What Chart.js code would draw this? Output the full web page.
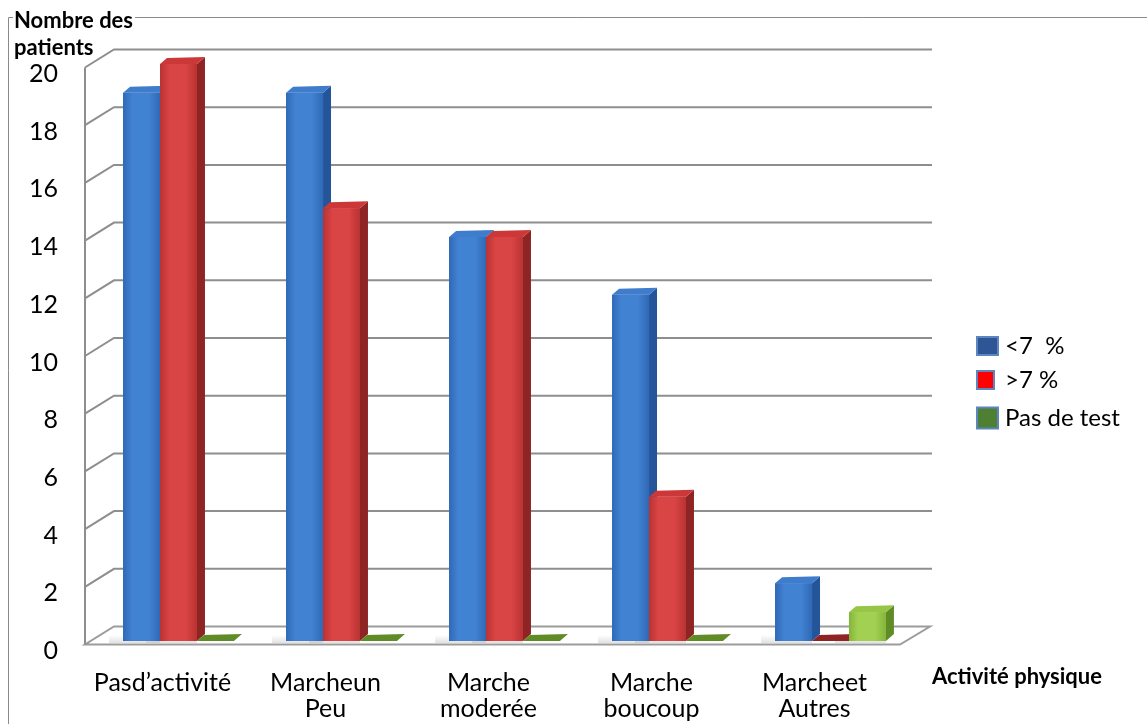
<!DOCTYPE html>
<html>
<head>
<meta charset="utf-8">
<script src="https://cdn.jsdelivr.net/npm/chart.js@4.4.1/dist/chart.umd.min.js"></script>
<style>
  html, body { margin: 0; padding: 0; background: #ffffff; }
  #wrap { position: relative; width: 1147px; height: 724px; }
</style>
</head>
<body>
<div id="wrap"><canvas id="chart" width="1147" height="724"></canvas></div>
<script>
// Activity categories (multi-line labels)
const categories = [
  ["Pasd\u2019activité"],
  ["Marcheun", "Peu"],
  ["Marche", "moderée"],
  ["Marche", "boucoup"],
  ["Marcheet", "Autres"]
];
// Series
const seriesNames = ["<7  %", ">7 %", "Pas de test"];
const belowSeven = [19, 19, 14, 12, 2];
const aboveSeven = [20, 15, 14, 5, 0];
const noTest = [0, 0, 0, 0, 1];
// Value axis ticks
const yTicks = [0, 2, 4, 6, 8, 10, 12, 14, 16, 18, 20];
const yTitle = ["Nombre des", "patients"];
const xTitle = "Activité physique";

// Face colours for each series: front (left->right gradient), side, top
const faceColors = [
  { front: ["#4282d2", "#2f69b6"], side: "#24559a", top: "#3f7ccc" },
  { front: ["#d94444", "#b93232"], side: "#8e2424", top: "#cc3838" },
  { front: ["#a2d152", "#84b43a"], side: "#5f8c26", top: "#96c646" }
];
const legendColors = [
  { fill: "#2f5597", border: "#5b86c0" },
  { fill: "#ff0000", border: "#5b86c0" },
  { fill: "#4f7f33", border: "#5b86c0" }
];

const FONT = "Lato, 'Open Sans', sans-serif";
const GRID = "#8e8e8e";

// Perspective offsets of the box
const WALL_FRONT_DX = -12, WALL_FRONT_DY = 3.5;   // front-left edge relative to bar plane
const WALL_BACK_DX = 17, WALL_BACK_DY = -14.5;    // back wall relative to bar plane
const BAR_DX = 8, BAR_DY = 7;                      // bar depth

const frame3d = {
  id: "frame3d",
  beforeDraw(chart) {
    const ctx = chart.ctx;
    ctx.save();
    // outer frame (top and left edges)
    ctx.strokeStyle = "#8a8a8a";
    ctx.lineWidth = 1;
    ctx.beginPath();
    ctx.moveTo(8.5, 724);
    ctx.lineTo(8.5, 17.5);
    ctx.lineTo(1147, 17.5);
    ctx.stroke();
    ctx.restore();
  },
  beforeDatasetsDraw(chart) {
    const ctx = chart.ctx;
    const ys = chart.scales.y;
    const area = chart.chartArea;
    const fx = area.left + WALL_FRONT_DX;
    const bx = area.left + WALL_BACK_DX;
    const rx = area.right + 20;
    ctx.save();
    ctx.lineCap = "butt";
    // floor
    const b = ys.getPixelForValue(0);
    const ff = b + WALL_FRONT_DY, fb = b + WALL_BACK_DY;
    const frx = area.right - 12;
    ctx.fillStyle = "#ffffff";
    ctx.strokeStyle = "#9c9c9c";
    ctx.lineWidth = 2;
    ctx.beginPath();
    ctx.moveTo(fx, ff);
    ctx.lineTo(frx, ff);
    ctx.lineTo(rx - 2, fb);
    ctx.lineTo(bx, fb);
    ctx.closePath();
    ctx.fill();
    ctx.stroke();
    // grid lines: diagonal on the left wall + horizontal on the back wall
    ctx.strokeStyle = GRID;
    ctx.lineWidth = 2;
    yTicks.forEach(v => {
      if (v === 0) return;
      const p = ys.getPixelForValue(v);
      ctx.beginPath();
      ctx.moveTo(fx, p + WALL_FRONT_DY);
      ctx.lineTo(bx, p + WALL_BACK_DY);
      ctx.lineTo(rx, p + WALL_BACK_DY);
      ctx.stroke();
    });
    // left wall front edge
    ctx.beginPath();
    ctx.moveTo(fx, ys.getPixelForValue(20) + WALL_FRONT_DY);
    ctx.lineTo(fx, ff);
    ctx.stroke();
    // soft shadows of the bars on the floor
    chart.data.datasets.forEach((ds, di) => {
      const meta = chart.getDatasetMeta(di);
      meta.data.forEach(el => {
        const p = el.getProps(["x", "y", "base", "width"], true);
        if (p.base - p.y < 1) return;
        const g = ctx.createLinearGradient(0, p.base - 6, 0, p.base + 4);
        g.addColorStop(0, "rgba(150,150,150,0)");
        g.addColorStop(1, "rgba(150,150,150,0.35)");
        ctx.fillStyle = g;
        ctx.fillRect(p.x - p.width / 2 - 14, p.base - 6, p.width + 14, 8);
      });
    });
    ctx.restore();
  },
  afterDatasetsDraw(chart) {
    const ctx = chart.ctx;
    const n = chart.data.labels.length;
    ctx.save();
    for (let i = 0; i < n; i++) {
      chart.data.datasets.forEach((ds, di) => {
        const el = chart.getDatasetMeta(di).data[i];
        const p = el.getProps(["x", "y", "base", "width"], true);
        const x0 = p.x - p.width / 2, x1 = p.x + p.width / 2;
        const yt = p.y, yb = p.base;
        const c = faceColors[di];
        // side face
        ctx.fillStyle = c.side;
        ctx.beginPath();
        ctx.moveTo(x1, yt);
        ctx.lineTo(x1 + BAR_DX, yt - BAR_DY);
        ctx.lineTo(x1 + BAR_DX, yb - BAR_DY);
        ctx.lineTo(x1, yb);
        ctx.closePath();
        ctx.fill();
        // top face
        ctx.fillStyle = (yb - yt < 1) ? c.side : c.top;
        ctx.beginPath();
        ctx.moveTo(x0, yt);
        ctx.lineTo(x0 + BAR_DX - 1, yt - BAR_DY + 1);
        ctx.lineTo(x1 + BAR_DX, yt - BAR_DY);
        ctx.lineTo(x1, yt);
        ctx.closePath();
        ctx.fill();
        // front face
        if (yb - yt >= 1) {
          const g = ctx.createLinearGradient(x0, 0, x1, 0);
          g.addColorStop(0, c.front[1]);
          g.addColorStop(0.25, c.front[0]);
          g.addColorStop(0.7, c.front[0]);
          g.addColorStop(1, c.front[1]);
          ctx.fillStyle = g;
          ctx.fillRect(x0, yt, x1 - x0, yb - yt);
        }
      });
    }
    ctx.restore();
  },
  afterDraw(chart) {
    const ctx = chart.ctx;
    ctx.save();
    // value-axis title
    ctx.font = "bold 22px " + FONT;
    ctx.textBaseline = "middle";
    ctx.textAlign = "left";
    const w = ctx.measureText(yTitle[0]).width;
    ctx.fillStyle = "#ffffff";
    ctx.fillRect(13, 10, w + 3, 16);
    ctx.fillStyle = "#000000";
    ctx.fillText(yTitle[0], 14, 21);
    ctx.fillText(yTitle[1], 14, 48);
    // category-axis title
    ctx.fillText(xTitle, 932, 677);
    // legend
    ctx.font = "24px " + FONT;
    const ly = [346, 380, 418];
    seriesNames.forEach((name, i) => {
      const lc = legendColors[i];
      const sw = i === 1 ? 19 : 23, sh = i === 2 ? 23 : 20;
      ctx.fillStyle = lc.border;
      ctx.fillRect(976, ly[i] - sh / 2, sw, sh);
      ctx.fillStyle = lc.fill;
      ctx.fillRect(978, ly[i] - sh / 2 + 2, sw - 4, sh - 4);
      ctx.fillStyle = "#000000";
      ctx.fillText(name, 1005, ly[i]);
    });
    ctx.restore();
  }
};

const chart = new Chart(document.getElementById("chart"), {
  type: "bar",
  data: {
    labels: categories,
    datasets: [
      { label: seriesNames[0], data: belowSeven, backgroundColor: faceColors[0].front[0] },
      { label: seriesNames[1], data: aboveSeven, backgroundColor: faceColors[1].front[0] },
      { label: seriesNames[2], data: noTest, backgroundColor: faceColors[2].front[0] }
    ]
  },
  options: {
    responsive: false,
    animation: false,
    devicePixelRatio: 1,
    layout: { padding: { left: 0, right: 235, top: 64, bottom: 0 } },
    datasets: { bar: { categoryPercentage: 0.68, barPercentage: 1.0 } },
    plugins: { legend: { display: false }, tooltip: { enabled: false } },
    scales: {
      x: {
        grid: { display: false, drawTicks: false },
        border: { display: false },
        ticks: {
          color: "#000000",
          font: { family: FONT, size: 25, lineHeight: 1.04 },
          padding: 29,
          labelOffset: -16,
          maxRotation: 0,
          autoSkip: false
        },
        afterFit(scale) { scale.height = 83; }
      },
      y: {
        min: 0,
        max: 20,
        grid: { display: false, drawTicks: false },
        border: { display: false },
        afterBuildTicks(scale) { scale.ticks = yTicks.map(v => ({ value: v })); },
        ticks: {
          color: "#000000",
          font: { family: FONT, size: 25 },
          padding: 39,
          labelOffset: 10
        },
        afterFit(scale) { scale.width = 97; }
      }
    }
  },
  plugins: [frame3d]
});
</script>
</body>
</html>
